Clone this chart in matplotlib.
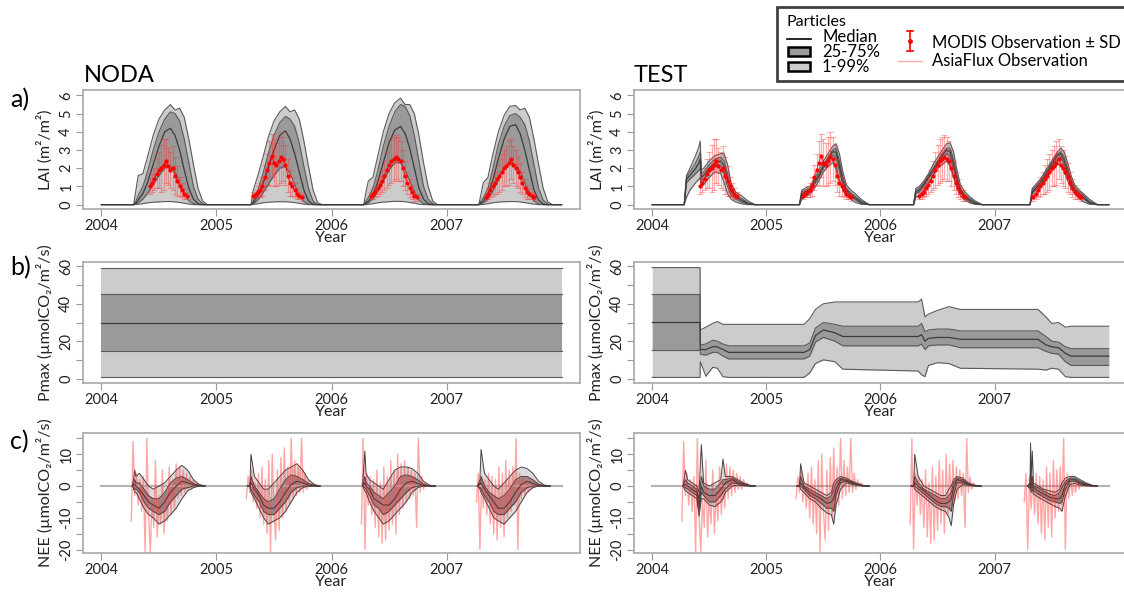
import numpy as np
import matplotlib.pyplot as plt
from matplotlib.lines import Line2D
from matplotlib.patches import Rectangle

plt.rcParams['font.family'] = ['Lato', 'DejaVu Sans']

# ---------------- data ----------------
years = [2004, 2005, 2006, 2007]

# LAI (m2/m2), NODA run -- one day-of-year grid for every season
lai_noda_t = [0.28, 0.30, 0.32, 0.36, 0.40, 0.45, 0.50, 0.55, 0.60, 0.64, 0.68, 0.72, 0.76, 0.80, 0.84, 0.88, 0.92]
lai_noda_q99 = [[0, 0.8, 1.6, 1.7, 2.6, 3.8, 4.7, 5.2, 5.5, 5.2, 5.3, 4.8, 3.6, 2.2, 0.9, 0.2, 0],
                [0, 0, 0.8, 1.6, 2.5, 3.7, 4.6, 5.1, 5.4, 5.1, 5.2, 4.7, 3.5, 2.1, 0.8, 0.1, 0],
                [0, 0.7, 1.3, 1.5, 2.6, 4.0, 5.0, 5.6, 5.85, 5.5, 5.5, 5.0, 3.8, 2.3, 1.0, 0.2, 0],
                [0, 0.6, 1.2, 1.5, 2.7, 4.0, 4.9, 5.4, 5.45, 5.2, 5.3, 4.8, 3.6, 2.2, 0.9, 0.15, 0]]
lai_noda_q75 = [[0, 0.2, 0.5, 1.0, 1.8, 3.0, 4.0, 4.7, 5.1, 5.0, 4.6, 3.6, 2.3, 1.0, 0.3, 0.05, 0],
                [0, 0, 0.2, 0.8, 1.6, 2.8, 3.8, 4.5, 4.85, 4.7, 4.3, 3.4, 2.1, 0.9, 0.2, 0, 0],
                [0, 0.2, 0.4, 0.9, 1.8, 3.2, 4.3, 5.1, 5.5, 5.4, 4.9, 3.8, 2.4, 1.0, 0.3, 0.05, 0],
                [0, 0.2, 0.4, 0.9, 1.9, 3.3, 4.3, 4.9, 5.0, 4.8, 4.4, 3.5, 2.2, 0.9, 0.25, 0.03, 0]]
lai_noda_q50 = [[0, 0.1, 0.25, 0.6, 1.2, 2.2, 3.2, 4.0, 4.2, 3.8, 3.0, 1.9, 0.9, 0.3, 0.05, 0, 0],
                [0, 0, 0.1, 0.5, 1.1, 2.0, 3.0, 3.8, 4.05, 3.6, 2.8, 1.8, 0.8, 0.2, 0.03, 0, 0],
                [0, 0.1, 0.2, 0.5, 1.2, 2.3, 3.4, 4.1, 4.3, 3.9, 3.1, 2.0, 0.9, 0.3, 0.05, 0, 0],
                [0, 0.1, 0.2, 0.6, 1.3, 2.5, 3.6, 4.3, 4.4, 3.9, 3.0, 1.9, 0.8, 0.25, 0.03, 0, 0]]
lai_noda_q25 = [[0, 0.05, 0.1, 0.3, 0.6, 1.1, 1.6, 2.0, 2.1, 1.8, 1.2, 0.6, 0.2, 0.05, 0, 0, 0],
                [0, 0, 0.05, 0.25, 0.6, 1.1, 1.6, 2.0, 2.1, 1.7, 1.1, 0.5, 0.15, 0.03, 0, 0, 0],
                [0, 0.05, 0.1, 0.3, 0.7, 1.3, 1.9, 2.3, 2.3, 1.9, 1.3, 0.7, 0.25, 0.05, 0, 0, 0],
                [0, 0.05, 0.1, 0.3, 0.7, 1.4, 2.0, 2.3, 2.2, 1.8, 1.2, 0.6, 0.2, 0.04, 0, 0, 0]]
lai_noda_q01 = [[0, 0, 0.02, 0.05, 0.1, 0.13, 0.15, 0.17, 0.17, 0.15, 0.12, 0.08, 0.03, 0, 0, 0, 0],
                [0, 0, 0.01, 0.05, 0.1, 0.13, 0.15, 0.16, 0.16, 0.14, 0.11, 0.07, 0.03, 0, 0, 0, 0],
                [0, 0, 0.02, 0.05, 0.1, 0.14, 0.16, 0.18, 0.18, 0.16, 0.12, 0.08, 0.03, 0, 0, 0, 0],
                [0, 0, 0.02, 0.05, 0.1, 0.14, 0.16, 0.17, 0.17, 0.15, 0.11, 0.07, 0.03, 0, 0, 0, 0]]

# LAI, TEST run
lai_test_t = [[0.28, 0.30, 0.33, 0.38, 0.41, 0.42, 0.43, 0.45, 0.50, 0.55, 0.60, 0.63, 0.66, 0.69, 0.73, 0.78, 0.84, 0.90],
              [0.29, 0.31, 0.34, 0.38, 0.42, 0.46, 0.50, 0.54, 0.58, 0.61, 0.64, 0.67, 0.70, 0.74, 0.78, 0.83, 0.90],
              [0.29, 0.31, 0.34, 0.38, 0.42, 0.46, 0.50, 0.54, 0.58, 0.61, 0.64, 0.67, 0.70, 0.74, 0.78, 0.83, 0.89],
              [0.31, 0.33, 0.36, 0.40, 0.44, 0.48, 0.52, 0.55, 0.58, 0.61, 0.64, 0.67, 0.70, 0.74, 0.78, 0.83, 0.90]]
lai_test_q99 = [[0, 1.6, 2.0, 2.7, 3.2, 3.5, 1.9, 2.0, 2.4, 2.7, 2.8, 2.8, 2.2, 1.2, 0.7, 0.5, 0.2, 0],
                [0, 0.8, 0.9, 1.0, 1.4, 1.9, 2.4, 2.8, 3.2, 3.35, 2.8, 1.8, 1.1, 0.8, 0.6, 0.3, 0],
                [0, 0.9, 1.0, 1.3, 1.7, 2.2, 2.6, 3.0, 3.35, 3.4, 2.9, 1.9, 1.1, 0.7, 0.45, 0.2, 0],
                [0, 0.9, 1.1, 1.4, 1.8, 2.2, 2.6, 2.9, 3.1, 2.9, 2.3, 1.6, 1.1, 0.8, 0.6, 0.3, 0]]
lai_test_q75 = [[0, 1.5, 1.8, 2.3, 2.7, 2.9, 1.7, 1.8, 2.2, 2.5, 2.6, 2.4, 1.7, 0.9, 0.5, 0.35, 0.1, 0],
                [0, 0.7, 0.8, 0.9, 1.3, 1.7, 2.2, 2.6, 3.0, 3.1, 2.4, 1.5, 0.9, 0.65, 0.45, 0.2, 0],
                [0, 0.8, 0.9, 1.2, 1.6, 2.0, 2.4, 2.8, 3.1, 3.1, 2.5, 1.6, 0.9, 0.55, 0.35, 0.12, 0],
                [0, 0.8, 1.0, 1.3, 1.7, 2.1, 2.5, 2.8, 2.9, 2.6, 2.0, 1.4, 0.95, 0.7, 0.5, 0.2, 0]]
lai_test_q50 = [[0, 1.4, 1.6, 2.0, 2.3, 2.5, 1.5, 1.6, 2.0, 2.3, 2.4, 2.1, 1.4, 0.7, 0.4, 0.25, 0.05, 0],
                [0, 0.6, 0.7, 0.8, 1.2, 1.6, 2.1, 2.5, 2.9, 2.9, 2.1, 1.3, 0.8, 0.55, 0.35, 0.12, 0],
                [0, 0.7, 0.8, 1.1, 1.5, 1.9, 2.3, 2.7, 3.0, 2.9, 2.2, 1.4, 0.8, 0.45, 0.25, 0.08, 0],
                [0, 0.7, 0.9, 1.2, 1.6, 2.0, 2.4, 2.7, 2.8, 2.4, 1.8, 1.2, 0.85, 0.6, 0.4, 0.12, 0]]
lai_test_q25 = [[0, 1.2, 1.4, 1.7, 1.9, 2.0, 1.3, 1.4, 1.8, 2.1, 2.1, 1.7, 1.0, 0.5, 0.3, 0.15, 0.02, 0],
                [0, 0.5, 0.6, 0.7, 1.1, 1.5, 2.0, 2.4, 2.7, 2.6, 1.8, 1.1, 0.7, 0.45, 0.25, 0.07, 0],
                [0, 0.6, 0.7, 1.0, 1.4, 1.8, 2.2, 2.5, 2.8, 2.6, 1.9, 1.2, 0.7, 0.35, 0.18, 0.04, 0],
                [0, 0.6, 0.8, 1.1, 1.5, 1.9, 2.3, 2.5, 2.6, 2.2, 1.6, 1.1, 0.75, 0.5, 0.3, 0.07, 0]]
lai_test_q01 = [[0, 0.4, 0.8, 1.2, 1.4, 1.5, 1.0, 1.1, 1.5, 1.8, 1.7, 1.2, 0.6, 0.3, 0.15, 0.05, 0, 0],
                [0, 0.3, 0.45, 0.55, 0.9, 1.3, 1.8, 2.1, 2.3, 2.1, 1.4, 0.8, 0.5, 0.3, 0.12, 0.02, 0],
                [0, 0.4, 0.5, 0.8, 1.2, 1.6, 2.0, 2.2, 2.4, 2.1, 1.5, 0.9, 0.5, 0.25, 0.1, 0.01, 0],
                [0, 0.4, 0.6, 0.9, 1.3, 1.7, 2.0, 2.2, 2.2, 1.8, 1.3, 0.9, 0.6, 0.35, 0.15, 0.02, 0]]

# MODIS LAI observations (mean, SD)
modis_t = [[0.42, 0.44, 0.46, 0.48, 0.50, 0.52, 0.54, 0.56, 0.58, 0.60, 0.62, 0.64, 0.66, 0.68, 0.70, 0.72, 0.74],
           [0.32, 0.34, 0.36, 0.38, 0.40, 0.42, 0.44, 0.46, 0.48, 0.50, 0.52, 0.54, 0.56, 0.58, 0.60, 0.62, 0.64, 0.66, 0.68, 0.70, 0.72, 0.74],
           [0.34, 0.36, 0.38, 0.40, 0.42, 0.44, 0.46, 0.48, 0.50, 0.52, 0.54, 0.56, 0.58, 0.60, 0.62, 0.64, 0.66, 0.68, 0.70, 0.72, 0.74],
           [0.34, 0.36, 0.38, 0.40, 0.42, 0.44, 0.46, 0.48, 0.50, 0.52, 0.54, 0.56, 0.58, 0.60, 0.62, 0.64, 0.66, 0.68, 0.70, 0.72, 0.74, 0.76]]
modis_v = [[1.0, 1.2, 1.4, 1.7, 1.9, 2.0, 2.2, 2.4, 2.1, 1.9, 2.0, 1.6, 1.3, 1.0, 0.8, 0.6, 0.5],
           [0.5, 0.6, 0.7, 0.8, 1.0, 1.5, 1.9, 2.3, 2.7, 2.3, 2.2, 2.4, 2.6, 2.5, 2.2, 1.6, 1.2, 1.0, 0.8, 0.6, 0.5, 0.4],
           [0.5, 0.6, 0.7, 0.9, 1.1, 1.3, 1.6, 1.9, 2.2, 2.4, 2.5, 2.6, 2.5, 2.4, 2.0, 1.6, 1.2, 0.9, 0.7, 0.5, 0.4],
           [0.4, 0.6, 0.8, 1.0, 1.2, 1.4, 1.6, 1.8, 2.0, 2.1, 2.3, 2.5, 2.2, 2.0, 1.8, 1.5, 1.2, 0.9, 0.7, 0.6, 0.5, 0.4]]
modis_sd = [[0.4, 0.5, 0.6, 0.8, 1.0, 1.3, 1.4, 1.2, 1.0, 1.0, 1.2, 1.0, 0.8, 0.5, 0.4, 0.3, 0.2],
            [0.2, 0.2, 0.3, 0.4, 0.5, 0.7, 0.9, 1.2, 1.2, 1.3, 1.2, 1.3, 1.4, 1.2, 1.1, 0.9, 0.7, 0.5, 0.4, 0.3, 0.2, 0.2],
            [0.2, 0.3, 0.3, 0.4, 0.5, 0.6, 0.8, 1.0, 1.1, 1.2, 1.2, 1.2, 1.2, 1.1, 1.0, 0.8, 0.6, 0.5, 0.4, 0.3, 0.2],
            [0.2, 0.3, 0.4, 0.5, 0.6, 0.8, 0.9, 1.0, 1.0, 1.1, 1.2, 1.1, 1.0, 1.0, 0.9, 0.8, 0.6, 0.5, 0.4, 0.3, 0.2, 0.2]]

# Pmax (umolCO2/m2/s): NODA keeps the prior, TEST updates it
pmax_noda_t = [2004.0, 2008.0]
pmax_noda_q01 = [0.6, 0.6]
pmax_noda_q25 = [15, 15]
pmax_noda_q50 = [30, 30]
pmax_noda_q75 = [45, 45]
pmax_noda_q99 = [59.4, 59.4]
pmax_test_t = [2004.0, 2004.419, 2004.421, 2004.47, 2004.53, 2004.57, 2004.62, 2004.67, 2005.33, 2005.38,
               2005.43, 2005.5, 2005.6, 2005.67, 2006.33, 2006.36, 2006.39, 2006.42, 2006.5, 2006.6,
               2006.7, 2007.38, 2007.45, 2007.5, 2007.56, 2007.62, 2007.67, 2008.0]
pmax_test_q99 = [59.4, 59.4, 26, 27.5, 29.5, 30.5, 29, 29, 29, 32, 37, 40, 41, 41, 41, 42.5, 33, 34.5, 36.5, 38.5, 37, 37, 33, 29.5, 30, 27.5, 28, 28]
pmax_test_q75 = [45, 45, 18, 18.5, 20.5, 20, 18.5, 17.5, 17.5, 19, 27, 30, 29, 28, 28, 29.5, 25, 26, 26.5, 26.5, 25.5, 25.5, 22.5, 20, 19.5, 17, 16, 16]
pmax_test_q50 = [30, 30, 15.5, 15.5, 17, 17, 15.5, 14, 14, 15.5, 23, 26, 24.5, 22.5, 22.5, 23.5, 20, 21.5, 22, 22, 21, 21, 18, 17, 16.5, 13.5, 12, 12]
pmax_test_q25 = [15, 15, 13, 12.5, 14, 14, 12, 10.5, 10.5, 12, 19.5, 22, 20, 17.5, 17.5, 18.5, 15.5, 17.5, 18, 18, 16.5, 16.5, 14.5, 13.5, 13, 9, 7, 7]
pmax_test_q01 = [0.6, 0.6, 9, 1.2, 6, 5.5, 1.0, 0.6, 0.6, 3, 8, 10, 9, 5, 4, 2, 1, 7, 8.5, 8, 5.5, 5, 4.5, 5.5, 5, 1, 0.6, 0.6]

# NEE (umolCO2/m2/s), NODA run
nee_noda_t = [0.27, 0.29, 0.30, 0.33, 0.37, 0.41, 0.45, 0.50, 0.55, 0.60, 0.65, 0.70, 0.75, 0.80, 0.85, 0.90]
nee_noda_q99 = [[0, 5, 3, 4, 2, 0, -1, 0, 1, 3, 5, 6.5, 5, 2, 0.5, 0],
                [0, 0, 10, 3, 1, -1, -1, 1, 3, 5, 6, 7, 5, 2, 0.5, 0],
                [0, 11, 4, 2, 1, 0, -1, 2, 5, 6, 6, 5.5, 4, 1.5, 0.3, 0],
                [0, 2, 11.5, 4, 2, 0, -1, 1, 3, 5, 6, 5.5, 4, 1.5, 0.3, 0]]
nee_noda_q75 = [[0, 2, 1, 1, -1, -3, -4, -4, -2, 1, 2.5, 3, 2, 0.8, 0.2, 0],
                [0, 0, 3, 0, -2, -4, -5, -4, -1, 2, 3.5, 3, 2, 0.8, 0.2, 0],
                [0, 3, 1, 0, -2, -3, -4, -2, 0, 3, 3.5, 3, 2, 0.6, 0.1, 0],
                [0, 1, 3, 0, -2, -3, -4, -3, -1, 2, 3, 3, 2, 0.6, 0.1, 0]]
nee_noda_q50 = [[0, 0.5, 0, -1, -3, -5, -6, -7, -5, -2, 0, 1.5, 1, 0.3, 0.1, 0],
                [0, 0, 1, -1, -3, -6, -7, -7, -5, -2, 0.5, 1.5, 1, 0.3, 0.1, 0],
                [0, 1, 0, -1, -4, -5, -6, -6, -4, -1, 1, 1.5, 0.8, 0.2, 0, 0],
                [0, 0.5, 1, -1, -3, -5, -7, -7, -5, -2, 0.5, 1.5, 0.8, 0.2, 0, 0]]
nee_noda_q25 = [[0, -1, -1, -2, -5, -7, -8, -9, -8, -5, -3, -1, -0.5, 0, 0, 0],
                [0, 0, -1, -3, -5, -8, -9, -9, -7, -5, -2, -0.5, 0, 0, 0, 0],
                [0, -0.5, -1, -3, -6, -7, -9, -8, -6, -4, -2, -0.5, 0, 0, 0, 0],
                [0, -0.5, -1, -3, -5, -8, -9, -9, -7, -5, -2, -0.5, 0, 0, 0, 0]]
nee_noda_q01 = [[0, -2, -2, -4, -7, -9, -10, -12, -11, -9, -7, -4, -1.5, -0.5, 0, 0],
                [0, 0, -2, -4, -7, -10, -12, -11, -10, -8, -5, -2, -0.5, 0, 0, 0],
                [0, -1.5, -2, -5, -8, -10, -12, -11, -9, -7, -5, -2, -0.5, 0, 0, 0],
                [0, -1, -2, -4, -7, -10, -11, -12, -10, -8, -5, -2, -0.5, 0, 0, 0]]

# NEE, TEST run
nee_test_t = [[0.27, 0.29, 0.31, 0.35, 0.39, 0.41, 0.43, 0.45, 0.50, 0.55, 0.60, 0.62, 0.64, 0.70, 0.75, 0.80, 0.85, 0.90],
              [0.27, 0.29, 0.30, 0.33, 0.38, 0.43, 0.48, 0.53, 0.57, 0.59, 0.61, 0.65, 0.70, 0.75, 0.80, 0.85, 0.90],
              [0.27, 0.29, 0.30, 0.33, 0.38, 0.43, 0.48, 0.53, 0.57, 0.60, 0.62, 0.64, 0.67, 0.72, 0.77, 0.82, 0.88],
              [0.29, 0.31, 0.315, 0.32, 0.33, 0.34, 0.38, 0.43, 0.48, 0.53, 0.57, 0.59, 0.62, 0.66, 0.70, 0.75, 0.80, 0.85, 0.90]]
nee_test_q99 = [[0, 5, 2, 1, 0, -2, 13, 1, 0, 1, 2, 8.5, 3, 3, 2, 1, 0.3, 0],
                [0, 0, 7, 1, 0, -1, -2, -3, -2, 1, 2, 3, 2.5, 1.5, 0.8, 0.2, 0],
                [0, 0, 10, 3, 0, -1, -2, -3, -3, -1, 0, 2, 3, 2.5, 1, 0.3, 0],
                [0, 1, 13.5, 2, 11, 1, 0, -1, -1.5, -2, -1, 1, 2.5, 3, 3, 2, 1, 0.3, 0]]
nee_test_q75 = [[0, 2, 1, 0, -1, -4, 3, 0, -1, -1, 1, 2, 2, 2.5, 1.5, 0.7, 0.2, 0],
                [0, 0, 3, 0, -1, -2, -3, -4, -3, -1, 1, 2.5, 2, 1.2, 0.5, 0.1, 0],
                [0, 0, 3, 1, -1, -2, -3, -4, -4, -3, -2, 1, 2.5, 2, 0.8, 0.2, 0],
                [0, 0.5, 4, 1, 3, 0, -0.5, -1.5, -2.5, -3, -2, -0.5, 1.5, 2.5, 2.5, 1.5, 0.7, 0.2, 0]]
nee_test_q50 = [[0, 0.5, 0, -1, -2, -6, 0, -2, -3, -3, -1, 0, 1, 2, 1, 0.5, 0.1, 0],
                [0, 0, 1, -0.5, -2, -3, -4, -5.5, -5, -4, -1, 2, 1.8, 1, 0.4, 0.05, 0],
                [0, 0, 1, 0, -1.5, -3, -4.5, -5.5, -5.5, -5, -4, -0.5, 2, 1.5, 0.6, 0.1, 0],
                [0, 0, 1, 0, 1, -0.5, -1.5, -2.5, -3.5, -4, -4, -3, 0.5, 2, 2, 1, 0.5, 0.1, 0]]
nee_test_q25 = [[0, -0.5, -1, -2, -3, -8, -2, -3, -5, -5, -3, -2, -1, 1, 0.7, 0.3, 0, 0],
                [0, 0, 0, -1, -3, -4, -5.5, -7, -7, -8, -3, 1, 1.5, 0.8, 0.3, 0, 0],
                [0, 0, 0, -1, -2.5, -4, -5.5, -6.5, -6.5, -7, -8, -3, 1, 1, 0.4, 0.05, 0],
                [0, -0.5, 0, -1, 0, -1.5, -2.5, -3.5, -4.5, -5, -5.5, -5, -1, 1.5, 1.5, 0.7, 0.3, 0, 0]]
nee_test_q01 = [[0, -1.5, -2, -3, -4, -9.5, -4, -4, -6, -6.5, -5, -4, -2, 0, 0.3, 0.1, 0, 0],
                [0, 0, -1, -2, -4, -5, -7, -8.5, -9, -12, -6, -1, 1, 0.5, 0.2, 0, 0],
                [0, 0, -1, -2, -3.5, -5, -6.5, -7.5, -8, -10, -12.5, -6, -1, 0.5, 0.2, 0, 0],
                [0, -1, -1, -2, -1, -2.5, -3.5, -4.5, -5.5, -6.5, -7, -8, -3, 0.5, 0.8, 0.3, 0.1, 0, 0]]

# AsiaFlux NEE observations (same dates each season)
flux_t = [0.26, 0.275, 0.29, 0.305, 0.32, 0.335, 0.35, 0.365, 0.38, 0.395, 0.41, 0.425, 0.44, 0.455,
          0.47, 0.485, 0.50, 0.515, 0.53, 0.545, 0.56, 0.575, 0.59, 0.605, 0.62, 0.635, 0.65, 0.665,
          0.68, 0.695, 0.71, 0.725, 0.74, 0.755, 0.77, 0.785, 0.80, 0.815, 0.83, 0.845]
flux_v = [[-11, 14, -3, 4, -6, 2, -8, 3, -21, 15, -9, -21, -4, -13, 8, -16, -3, -12, 5, -15,
           -2, -11, 6, -9, 2, -7, 7, -4, 6, -3, 5, -2, 4, -1, 3, -1, 2, 0, 1, 0],
          [-4, 3, -2, 5, -5, 1, -7, 4, -10, 6, -12, 2, -15, 8, -21, 10, -8, -17, 5, -14,
           9, -10, 12, -8, 6, -6, 15, -4, 8, -3, 6, -2, 15, -2, 4, -1, 2, 0, 1, 0],
          [-12, 15, -20, 4, -6, 3, -9, 2, -13, 5, -16, 1, -18, 6, -17, 3, -14, 8, -12, 5,
           -15, 10, -9, 7, -7, 8, -5, 6, -4, 5, -3, 4, -13, 15, -2, 3, -1, 1, 0, 0],
          [-5, 4, -20, 3, -7, 2, -9, 4, -12, 3, -15, 2, -17, 6, -13, 4, -16, 8, -10, 5,
           -8, 6, -6, 15, -20, 4, -4, 3, -3, 2, -2, 2, -1, 1, 0, 0, 0, 0, 0, 0]]

# ---------------- drawing ----------------
W, H = 1124, 594
LIGHT, DARK, EDGE, MED = '#cccccc', '#9a9a9a', '#5a5a5a', '#3c3c3c'


def px(x0, y0, x1, y1):
    return [x0 / W, 1 - y1 / H, (x1 - x0) / W, (y1 - y0) / H]


def join_seasons(ts, vals):
    xs, ys = [2004.0], [0.0]
    for yr, t, v in zip(years, ts, vals):
        xs += [yr + ti for ti in t]
        ys += list(v)
    xs.append(2008.0)
    ys.append(0.0)
    return np.array(xs), np.array(ys)


def draw_bands(ax, x, q01, q25, q50, q75, q99, light=LIGHT, dark=DARK, alpha=1.0, ecol=EDGE, lw=0.8):
    ax.fill_between(x, q01, q99, color=light, alpha=alpha, lw=0)
    ax.fill_between(x, q25, q75, color=dark, alpha=alpha, lw=0)
    for q in (q01, q25, q75, q99):
        ax.plot(x, q, color=ecol, lw=lw)
    ax.plot(x, q50, color=MED, lw=lw + 0.1)


fig = plt.figure(figsize=(W / 100, H / 100), dpi=100)

cols = [(83, 580), (634, 1127)]
rows = [(90, 209), (262, 383), (433, 553)]
axes = [[fig.add_axes(px(c[0], r[0], c[1], r[1])) for c in cols] for r in rows]

# a) LAI
for j, ax in enumerate(axes[0]):
    if j == 0:
        qs = [join_seasons([lai_noda_t] * 4, q) for q in
              (lai_noda_q01, lai_noda_q25, lai_noda_q50, lai_noda_q75, lai_noda_q99)]
    else:
        qs = [join_seasons(lai_test_t, q) for q in
              (lai_test_q01, lai_test_q25, lai_test_q50, lai_test_q75, lai_test_q99)]
    x = qs[0][0]
    draw_bands(ax, x, *[q[1] for q in qs])
    for yr, t, v, sd in zip(years, modis_t, modis_v, modis_sd):
        tx = [yr + ti for ti in t]
        ax.errorbar(tx, v, yerr=sd, fmt='none', ecolor=(1, 0.2, 0.2, 0.4), elinewidth=0.9,
                    capsize=2, capthick=0.8)
        ax.plot(tx, v, '-o', color='red', lw=0.6, ms=2)
    ax.set_ylim(-0.24, 6.3)
    ax.set_yticks(range(0, 7))
    ax.set_ylabel('LAI (m²/m²)')

# b) Pmax
draw_bands(axes[1][0], pmax_noda_t, pmax_noda_q01, pmax_noda_q25, pmax_noda_q50,
           pmax_noda_q75, pmax_noda_q99)
draw_bands(axes[1][1], pmax_test_t, pmax_test_q01, pmax_test_q25, pmax_test_q50,
           pmax_test_q75, pmax_test_q99)
for ax in axes[1]:
    ax.set_ylim(-2.4, 62.4)
    ax.set_yticks(range(0, 61, 10))
    ax.set_yticklabels(['0', '', '20', '', '40', '', '60'])
    ax.set_ylabel('Pmax (µmolCO₂/m²/s)')

# c) NEE
for j, ax in enumerate(axes[2]):
    ax.plot([2004, 2008], [0, 0], color='#b4b4b4', lw=1.5)
    for i, yr in enumerate(years):
        if j == 0:
            t = nee_noda_t
            q = (nee_noda_q01[i], nee_noda_q25[i], nee_noda_q50[i], nee_noda_q75[i], nee_noda_q99[i])
        else:
            t = nee_test_t[i]
            q = (nee_test_q01[i], nee_test_q25[i], nee_test_q50[i], nee_test_q75[i], nee_test_q99[i])
        tx = [yr + ti for ti in flux_t]
        ax.plot(tx, flux_v[i], color='#ff6060', alpha=0.35, lw=1.0)
        draw_bands(ax, [yr + ti for ti in t], *q, light='#b8b8b8', dark='#5a3a3a',
                   alpha=0.5, ecol='#4a4040', lw=0.7)
        ax.plot(tx, flux_v[i], color='#ff2020', alpha=0.2, lw=0.9)
    ax.set_ylim(-21.1, 16.7)
    ax.set_yticks(range(-20, 16, 5))
    ax.set_yticklabels(['-20', '', '-10', '', '0', '', '10', ''])
    ax.set_ylabel('NEE (µmolCO₂/m²/s)')

for row in axes:
    for ax in row:
        ax.set_xlim(2003.84, 2008.16)
        ax.set_xticks(years)
        ax.set_xticklabels([str(y) for y in years])
        ax.set_xlabel('Year', fontsize=11.5, labelpad=-1, color='#222222')
        for s in ax.spines.values():
            s.set_color('#a8a8a8')
            s.set_linewidth(1.2)
        ax.tick_params(direction='out', length=5, color='#999999', labelsize=10.5,
                       labelcolor='#222222', pad=2)
        ax.tick_params(axis='y', labelrotation=90)
        for lab in ax.get_yticklabels():
            lab.set_va('center')
        ax.yaxis.label.set_fontsize(11.5)
        ax.yaxis.label.set_color('#222222')
        ax.yaxis.set_label_coords(-0.06, 0.5)

# titles and panel letters
fig.text(84 / W, 1 - 76 / H, 'NODA', fontsize=17, va='center')
fig.text(634 / W, 1 - 76 / H, 'TEST', fontsize=17, va='center')
for lab, y in (('a)', 100), ('b)', 268), ('c)', 442)):
    fig.text(10 / W, 1 - y / H, lab, fontsize=18, va='center')

# legend box
T = fig.transFigure
fig.add_artist(Rectangle((777 / W, 1 - 81 / H), 360 / W, 74 / H, transform=T,
                         facecolor='white', edgecolor='#404040', lw=2))
fig.text(787 / W, 1 - 22 / H, 'Particles', fontsize=11.5, va='center')
fig.add_artist(Line2D([787 / W, 811 / W], [1 - 39 / H, 1 - 39 / H], transform=T, color='black', lw=1.2))
fig.add_artist(Rectangle((788 / W, 1 - 56 / H), 22 / W, 9 / H, transform=T,
                         facecolor=DARK, edgecolor='black', lw=1.8))
fig.add_artist(Rectangle((788 / W, 1 - 71 / H), 22 / W, 9 / H, transform=T,
                         facecolor=LIGHT, edgecolor='black', lw=1.8))
for txt, y in (('Median', 37), ('25-75%', 52), ('1-99%', 67)):
    fig.text(822 / W, 1 - y / H, txt, fontsize=12, va='center')
fig.add_artist(Line2D([910 / W, 910 / W], [1 - 31 / H, 1 - 51 / H], transform=T, color='red', lw=1.2))
for y in (31, 51):
    fig.add_artist(Line2D([907 / W, 913 / W], [1 - y / H, 1 - y / H], transform=T, color='red', lw=1.2))
fig.add_artist(Line2D([910 / W], [1 - 41 / H], transform=T, color='red', marker='o', ms=2.5))
fig.text(932 / W, 1 - 43 / H, 'MODIS Observation ± SD', fontsize=12, va='center')
fig.add_artist(Line2D([898 / W, 922 / W], [1 - 61 / H, 1 - 61 / H], transform=T, color='#ffaaaa', lw=1))
fig.text(932 / W, 1 - 61 / H, 'AsiaFlux Observation', fontsize=12, va='center')

fig.savefig('out.png', dpi=100)
